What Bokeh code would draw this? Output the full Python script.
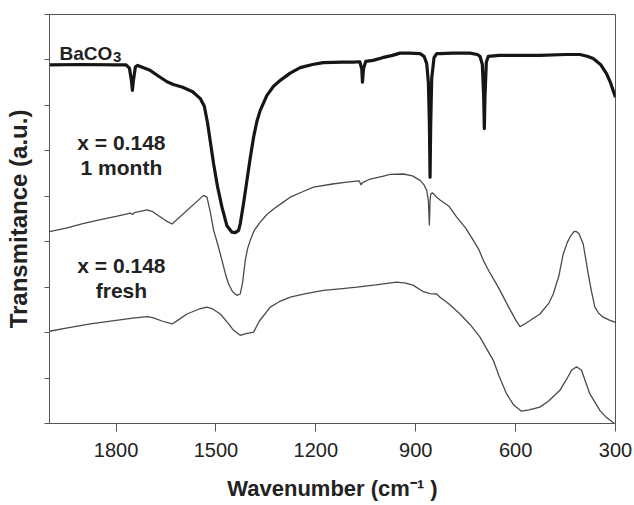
from bokeh.plotting import figure
from bokeh.models import Range1d, FixedTicker, Label, CustomJSTickFormatter
from bokeh.embed import file_html
from bokeh.resources import INLINE

# ---------------- data ----------------
baco3_wn = [2000, 1900, 1800, 1770, 1760, 1754, 1751, 1748, 1742, 1735, 1700, 1670, 1647,
            1628, 1600, 1570, 1547, 1535, 1525, 1507, 1495, 1482, 1467, 1452, 1442, 1432,
            1427, 1417, 1407, 1397, 1387, 1377, 1367, 1347, 1327, 1307, 1277, 1247, 1210,
            1178, 1120, 1088, 1068, 1062, 1060, 1057, 1050, 1028, 1000, 970, 947, 920, 887,
            875, 867, 862, 859, 857, 855, 852, 845, 837, 827, 790, 737, 715, 707, 700, 696,
            694, 692, 688, 682, 650, 600, 527, 450, 407, 385, 367, 345, 327, 315, 302, 300]
baco3_t = [7.89, 7.90, 7.89, 7.89, 7.82, 7.55, 7.33, 7.55, 7.85, 7.88, 7.78, 7.63, 7.52,
           7.46, 7.40, 7.30, 7.15, 6.98, 6.60, 5.71, 5.20, 4.76, 4.35, 4.21, 4.20, 4.25,
           4.40, 4.85, 5.35, 5.85, 6.30, 6.65, 6.89, 7.22, 7.42, 7.55, 7.71, 7.83, 7.90,
           7.94, 7.95, 7.95, 7.96, 7.80, 7.51, 7.80, 7.97, 7.99, 8.05, 8.10, 8.15, 8.15, 8.14,
           8.08, 7.92, 7.50, 6.60, 5.42, 6.60, 7.60, 8.05, 8.14, 8.14, 8.15, 8.15, 8.12, 8.08,
           7.90, 7.20, 6.49, 7.20, 7.95, 8.08, 8.10, 8.10, 8.10, 8.12, 8.12, 8.08, 8.03, 7.90,
           7.70, 7.50, 7.22, 7.18]

month_wn = [2000, 1950, 1900, 1850, 1800, 1757, 1750, 1745, 1707, 1690, 1670, 1650, 1632,
            1537, 1527, 1517, 1507, 1495, 1482, 1470, 1462, 1450, 1437, 1427, 1420, 1412,
            1405, 1397, 1385, 1367, 1347, 1327, 1300, 1277, 1240, 1207, 1150, 1107, 1070,
            1064, 1060, 1040, 1000, 977, 937, 910, 887, 875, 867, 862, 859, 857, 855, 850,
            837, 827, 800, 777, 750, 727, 710, 697, 680, 660, 647, 620, 600, 587, 575, 560,
            527, 500, 487, 470, 457, 445, 437, 425, 419, 410, 397, 390, 382, 372, 362, 350,
            337, 320, 302, 300]
month_t = [4.22, 4.30, 4.40, 4.48, 4.56, 4.63, 4.60, 4.64, 4.70, 4.66, 4.56, 4.46, 4.39,
           5.02, 4.98, 4.65, 4.25, 3.95, 3.59, 3.25, 3.07, 2.90, 2.82, 2.85, 3.10, 3.59,
           3.85, 4.03, 4.25, 4.43, 4.60, 4.72, 4.86, 4.98, 5.10, 5.20, 5.27, 5.31, 5.34,
           5.25, 5.30, 5.37, 5.44, 5.48, 5.49, 5.45, 5.35, 5.25, 5.13, 4.90, 4.36, 4.90,
           5.05, 5.08, 4.98, 4.92, 4.78, 4.54, 4.30, 4.03, 3.82, 3.59, 3.35, 3.10, 2.93,
           2.55, 2.28, 2.13, 2.18, 2.25, 2.41, 2.65, 2.85, 3.25, 3.73, 3.98, 4.10, 4.22,
           4.23, 4.18, 3.95, 3.65, 3.29, 2.90, 2.56, 2.42, 2.34, 2.28, 2.23, 2.22]

fresh_wn = [2000, 1950, 1877, 1800, 1750, 1707, 1690, 1660, 1632, 1615, 1587, 1550, 1527,
            1510, 1487, 1465, 1447, 1427, 1410, 1387, 1370, 1337, 1310, 1277, 1230, 1177,
            1120, 1077, 1020, 957, 930, 907, 877, 857, 837, 827, 800, 767, 737, 707, 690,
            667, 650, 627, 605, 582, 560, 527, 500, 467, 445, 432, 417, 402, 390, 377, 360,
            347, 330, 305, 300]
fresh_t = [2.03, 2.10, 2.19, 2.27, 2.32, 2.35, 2.33, 2.25, 2.19, 2.27, 2.41, 2.52, 2.56,
           2.52, 2.41, 2.22, 2.05, 1.94, 1.98, 2.01, 2.25, 2.56, 2.68, 2.78, 2.86, 2.93,
           2.97, 3.00, 3.05, 3.11, 3.09, 3.04, 2.90, 2.86, 2.85, 2.78, 2.63, 2.41, 2.18,
           1.90, 1.68, 1.39, 1.05, 0.65, 0.40, 0.27, 0.30, 0.36, 0.50, 0.73, 1.00, 1.17,
           1.25, 1.17, 0.92, 0.65, 0.45, 0.29, 0.15, 0.01, 0.00]

x_ticks = [1800, 1500, 1200, 900, 600, 300]
y_ticks = [0, 1, 2, 3, 4, 5, 6, 7, 8, 9]

FONT = "Liberation Sans"
TXT = "#222222"
AX = "#555555"

p = figure(width=634, height=505, output_backend="svg", toolbar_location=None,
           x_range=Range1d(2000, 300), y_range=Range1d(0, 9),
           min_border_left=49, min_border_right=19, min_border_top=14, min_border_bottom=82)

p.xgrid.visible = False
p.ygrid.visible = False
p.background_fill_color = "white"
p.border_fill_color = "white"
p.outline_line_color = AX
p.outline_line_width = 1

xa = p.xaxis[0]
xa.ticker = FixedTicker(ticks=x_ticks)
xa.major_tick_out = 8
xa.major_tick_in = 0
xa.minor_tick_out = 0
xa.minor_tick_in = 0
xa.axis_line_color = AX
xa.major_tick_line_color = AX
xa.major_label_text_font = FONT
xa.major_label_text_font_size = "20px"
xa.major_label_text_color = TXT
xa.major_label_standoff = 11
xa.axis_label = "Wavenumber (cm\u207b\u00b9 )"
xa.axis_label_text_font = FONT
xa.axis_label_text_font_size = "22px"
xa.axis_label_text_font_style = "bold"
xa.axis_label_text_color = TXT
xa.axis_label_standoff = 16

ya = p.yaxis[0]
ya.ticker = FixedTicker(ticks=y_ticks)
ya.major_tick_out = 5
ya.major_tick_in = 0
ya.minor_tick_out = 0
ya.minor_tick_in = 0
ya.axis_line_color = AX
ya.major_tick_line_color = AX
ya.formatter = CustomJSTickFormatter(code="return ''")
ya.major_label_standoff = 0
ya.axis_label = "Transmitance (a.u.)"
ya.axis_label_text_font = FONT
ya.axis_label_text_font_size = "24px"
ya.axis_label_text_font_style = "bold"
ya.axis_label_text_color = TXT
ya.axis_label_standoff = 13

p.line(fresh_wn, fresh_t, line_color="#4a4a4a", line_width=1.3)
p.line(month_wn, month_t, line_color="#4a4a4a", line_width=1.3)
p.line(baco3_wn, baco3_t, line_color="#161616", line_width=3.2, line_join="round")

def lab(x, y, text, size="21px", align="left"):
    p.add_layout(Label(x=x, y=y, text=text, text_font=FONT, text_font_size=size,
                       text_font_style="bold", text_color=TXT, text_align=align,
                       text_baseline="alphabetic"))

lab(1970, 8.14, "BaCO", size="19px")
lab(1809, 8.07, "3", size="15px")
lab(1784, 6.18, "x = 0.148", align="center")
lab(1784, 5.63, "1 month", align="center")
lab(1784, 3.48, "x = 0.148", align="center")
lab(1784, 2.93, "fresh", align="center")

open("out.html", "w").write(file_html(p, INLINE))
